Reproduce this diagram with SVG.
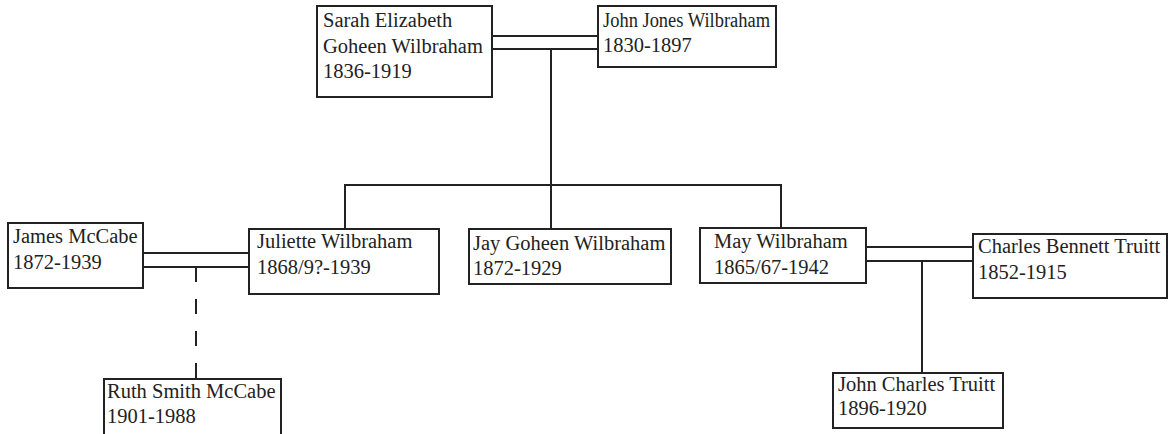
<svg xmlns="http://www.w3.org/2000/svg" width="1169" height="434" viewBox="0 0 1169 434">
<style>
.box{fill:#fff;stroke:#222;stroke-width:2}
.ln{fill:none;stroke:#222;stroke-width:2}
text{font-family:"Liberation Serif","DejaVu Serif",serif;font-size:20.5px;fill:#222}
</style>
<rect width="1169" height="434" fill="#fff"/>
<g id="connectors">
<line class="ln" x1="492" y1="36" x2="598" y2="36"/>
<line class="ln" x1="492" y1="49" x2="598" y2="49"/>
<line class="ln" x1="551" y1="49" x2="551" y2="230"/>
<line class="ln" x1="345" y1="185" x2="781" y2="185"/>
<line class="ln" x1="345" y1="184" x2="345" y2="229"/>
<line class="ln" x1="781" y1="184" x2="781" y2="228"/>
<line class="ln" x1="143" y1="253" x2="249" y2="253"/>
<line class="ln" x1="143" y1="267" x2="249" y2="267"/>
<line class="ln" x1="196" y1="267" x2="196" y2="379" stroke-dasharray="15 17"/>
<line class="ln" x1="866" y1="247" x2="973" y2="247"/>
<line class="ln" x1="866" y1="261" x2="973" y2="261"/>
<line class="ln" x1="922" y1="261" x2="922" y2="373"/>
</g>
<g id="sarah">
<rect class="box" x="317" y="6" width="175" height="91"/>
<text x="323" y="27">Sarah Elizabeth</text>
<text x="323" y="53">Goheen Wilbraham</text>
<text x="323" y="78">1836-1919</text>
</g>
<g id="john">
<rect class="box" x="598" y="6" width="178" height="61"/>
<text x="603" y="27" textLength="167" lengthAdjust="spacingAndGlyphs">John Jones Wilbraham</text>
<text x="603" y="52">1830-1897</text>
</g>
<g id="james">
<rect class="box" x="8" y="223" width="135" height="65"/>
<text x="13" y="243">James McCabe</text>
<text x="13" y="269">1872-1939</text>
</g>
<g id="juliette">
<rect class="box" x="249" y="229" width="190" height="65"/>
<text x="257" y="248">Juliette Wilbraham</text>
<text x="257" y="274">1868/9?-1939</text>
</g>
<g id="jay">
<rect class="box" x="469" y="229" width="202" height="55"/>
<text x="473" y="250">Jay Goheen Wilbraham</text>
<text x="473" y="275">1872-1929</text>
</g>
<g id="may">
<rect class="box" x="700" y="228" width="166" height="55"/>
<text x="714" y="248">May Wilbraham</text>
<text x="714" y="274">1865/67-1942</text>
</g>
<g id="charles">
<rect class="box" x="973" y="234" width="194" height="64"/>
<text x="978" y="253">Charles Bennett Truitt</text>
<text x="978" y="279">1852-1915</text>
</g>
<g id="ruth">
<rect class="box" x="104" y="379" width="177" height="70"/>
<text x="107" y="398">Ruth Smith McCabe</text>
<text x="107" y="423">1901-1988</text>
</g>
<g id="johncharles">
<rect class="box" x="833" y="373" width="170" height="55"/>
<text x="838" y="391">John Charles Truitt</text>
<text x="838" y="415">1896-1920</text>
</g>
</svg>
